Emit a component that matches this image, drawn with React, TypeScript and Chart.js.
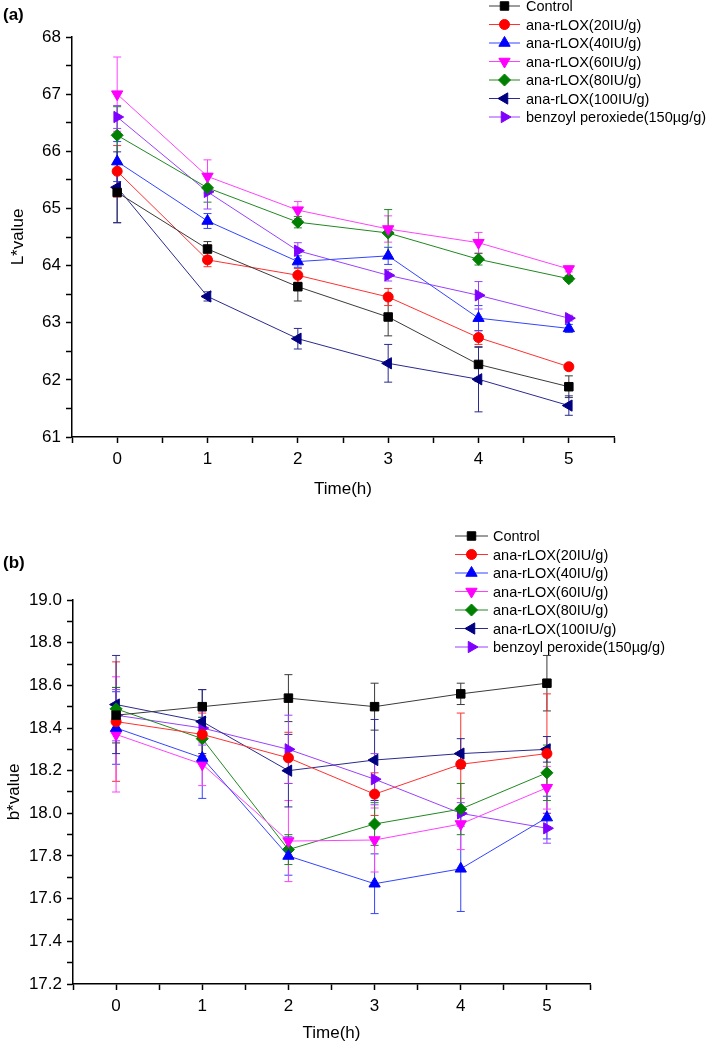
import React, { useEffect, useRef } from 'react';
import { Chart, registerables } from 'chart.js';
import { drawPoint } from 'chart.js/helpers';

Chart.register(...registerables);

// ---------- data ----------
const times = [0, 1, 2, 3, 4, 5];

const namesA = [
  'Control',
  'ana-rLOX(20IU/g)',
  'ana-rLOX(40IU/g)',
  'ana-rLOX(60IU/g)',
  'ana-rLOX(80IU/g)',
  'ana-rLOX(100IU/g)',
  'benzoyl peroxiede(150\u00B5g/g)',
];
const namesB = [
  'Control',
  'ana-rLOX(20IU/g)',
  'ana-rLOX(40IU/g)',
  'ana-rLOX(60IU/g)',
  'ana-rLOX(80IU/g)',
  'ana-rLOX(100IU/g)',
  'benzoyl peroxide(150\u00B5g/g)',
];

// (a) L* value
const lControl = [65.28, 64.29, 63.63, 63.1, 62.27, 61.88];
const lControlErr = [0.53, 0.13, 0.25, 0.33, 0.3, 0.19];
const l20 = [65.65, 64.1, 63.83, 63.45, 62.74, 62.23];
const l20Err = [0.45, 0.12, 0.12, 0.15, 0.12, 0.05];
const l40 = [65.82, 64.78, 64.07, 64.17, 63.08, 62.9];
const l40Err = [0.35, 0.13, 0.1, 0.15, 0.22, 0.07];
const l60 = [67.0, 65.56, 64.97, 64.64, 64.4, 63.94];
const l60Err = [0.65, 0.29, 0.15, 0.23, 0.18, 0.05];
const l80 = [66.28, 65.36, 64.76, 64.57, 64.11, 63.77];
const l80Err = [0.5, 0.25, 0.1, 0.41, 0.1, 0.05];
const l100 = [65.37, 63.46, 62.72, 62.29, 62.01, 61.55];
const l100Err = [0.62, 0.08, 0.18, 0.33, 0.57, 0.17];
const lBpo = [66.6, 65.29, 64.26, 63.83, 63.48, 63.08];
const lBpoErr = [0.2, 0.3, 0.14, 0.1, 0.24, 0.05];

// (b) b* value
const bControl = [18.46, 18.5, 18.54, 18.5, 18.56, 18.61];
const bControlErr = [0.13, 0.08, 0.11, 0.11, 0.05, 0.13];
const b20 = [18.43, 18.37, 18.26, 18.09, 18.23, 18.28];
const b20Err = [0.28, 0.1, 0.12, 0.1, 0.24, 0.28];
const b40 = [18.4, 18.26, 17.8, 17.67, 17.74, 17.98];
const b40Err = [0.17, 0.19, 0.09, 0.14, 0.2, 0.1];
const b60 = [18.37, 18.23, 17.87, 17.875, 17.95, 18.12];
const b60Err = [0.27, 0.1, 0.19, 0.15, 0.12, 0.1];
const b80 = [18.49, 18.35, 17.83, 17.95, 18.02, 18.19];
const b80Err = [0.1, 0.1, 0.07, 0.1, 0.12, 0.13];
const b100 = [18.51, 18.43, 18.2, 18.25, 18.28, 18.3];
const b100Err = [0.23, 0.15, 0.17, 0.19, 0.07, 0.06];
const bBpo = [18.46, 18.4, 18.3, 18.16, 18.0, 17.93];
const bBpoErr = [0.12, 0.08, 0.16, 0.12, 0.05, 0.07];

const xTickLabels = ['0', '1', '2', '3', '4', '5'];

// ---------- styles ----------
const STYLES = [
  { color: '#000000', line: '#3a3a3a', style: 'rect', rot: 0, r: 6 },
  { color: '#ff0000', line: '#ff3030', style: 'circle', rot: 0, r: 5 },
  { color: '#0000ff', line: '#3344ff', style: 'triangle', rot: 0, r: 6.5 },
  { color: '#ff00ff', line: '#ff40ff', style: 'triangle', rot: 180, r: 6.5 },
  { color: '#008000', line: '#208820', style: 'rectRot', rot: 0, r: 6 },
  { color: '#000080', line: '#2a2a90', style: 'triangle', rot: 270, r: 6.5 },
  { color: '#8000ff', line: '#9a40ff', style: 'triangle', rot: 90, r: 6.5 },
];

const FONT = "'Liberation Sans', Arial, sans-serif";

const errorBarPlugin = {
  id: 'errBars',
  beforeDatasetsDraw(chart: any) {
    const ctx = chart.ctx;
    const xs = chart.scales.x;
    const ys = chart.scales.y;
    chart.data.datasets.forEach((ds: any) => {
      const errs = ds.errors;
      if (!errs) return;
      ctx.save();
      ctx.strokeStyle = ds.borderColor;
      ctx.lineWidth = 1;
      ds.data.forEach((p: any, i: number) => {
        const x = xs.getPixelForValue(p.x);
        const yt = ys.getPixelForValue(p.y + errs[i]);
        const yb = ys.getPixelForValue(p.y - errs[i]);
        ctx.beginPath();
        ctx.moveTo(x, yt);
        ctx.lineTo(x, yb);
        ctx.moveTo(x - 4, yt);
        ctx.lineTo(x + 4, yt);
        ctx.moveTo(x - 4, yb);
        ctx.lineTo(x + 4, yb);
        ctx.stroke();
      });
      ctx.restore();
    });
  },
};

const lineLegendPlugin = {
  id: 'lineLegend',
  afterDraw(chart: any, _args: any, opts: any) {
    const ctx = chart.ctx;
    ctx.save();
    // panel label
    ctx.fillStyle = '#000';
    ctx.font = `bold 17px ${FONT}`;
    ctx.textAlign = 'left';
    ctx.textBaseline = 'middle';
    ctx.fillText(opts.panel, opts.panelX, opts.panelY);
    // legend rows
    ctx.font = `14.5px ${FONT}`;
    chart.data.datasets.forEach((ds: any, i: number) => {
      const y = opts.y0 + i * opts.step;
      ctx.strokeStyle = ds.borderColor;
      ctx.lineWidth = 1;
      ctx.beginPath();
      ctx.moveTo(opts.x0, y);
      ctx.lineTo(opts.x1, y);
      ctx.stroke();
      ctx.fillStyle = ds.pointBackgroundColor;
      ctx.strokeStyle = ds.pointBorderColor;
      drawPoint(ctx, { pointStyle: ds.pointStyle, rotation: ds.pointRotation, radius: ds.pointRadius, borderWidth: 1 } as any, (opts.x0 + opts.x1) / 2, y);
      ctx.fillStyle = '#000';
      ctx.fillText(ds.label, opts.textX, y + 1);
    });
    ctx.restore();
  },
};

type Spec = {
  names: string[];
  values: number[][];
  errors: number[][];
  yMin: number;
  yMax: number;
  yStep: number;
  yLabel: (v: number) => string;
  yTitle: string;
  yTitlePad: number;
  padding: { left: number; right: number; top: number; bottom: number };
  yWidth: number;
  xHeight: number;
  legend: any;
};

function makeConfig(s: Spec): any {
  const datasets = s.values.map((vals, i) => {
    const st = STYLES[i];
    return {
      label: s.names[i],
      data: times.map((t, j) => ({ x: t, y: vals[j] })),
      errors: s.errors[i],
      borderColor: st.line,
      borderWidth: 1,
      backgroundColor: st.color,
      pointBackgroundColor: st.color,
      pointBorderColor: st.color,
      pointBorderWidth: 1,
      pointStyle: st.style,
      pointRotation: st.rot,
      pointRadius: st.r,
      tension: 0,
      fill: false,
    };
  });
  return {
    type: 'line',
    data: { datasets },
    options: {
      animation: false,
      responsive: false,
      events: [],
      layout: { padding: s.padding },
      plugins: {
        legend: { display: false },
        tooltip: { enabled: false },
        lineLegend: s.legend,
      },
      scales: {
        x: {
          type: 'linear',
          min: -0.5,
          max: 5.5,
          afterFit: (sc: any) => {
            sc.height = s.xHeight;
          },
          ticks: {
            stepSize: 0.5,
            autoSkip: false,
            maxRotation: 0,
            padding: 6,
            color: '#000',
            font: { family: FONT, size: 17 },
            callback: (v: number) => {
              const idx = times.indexOf(v);
              return idx >= 0 ? xTickLabels[idx] : '';
            },
          },
          grid: { display: true, drawOnChartArea: false, drawTicks: true, tickLength: 6, tickColor: '#000', tickWidth: 1.5 },
          border: { display: true, color: '#000', width: 1.5 },
          title: { display: true, text: 'Time(h)', color: '#000', font: { family: FONT, size: 17 }, padding: { top: 0, bottom: 0 } },
        },
        y: {
          type: 'linear',
          min: s.yMin,
          max: s.yMax,
          afterFit: (sc: any) => {
            sc.width = s.yWidth;
          },
          ticks: {
            stepSize: s.yStep,
            autoSkip: false,
            padding: 5,
            color: '#000',
            font: { family: FONT, size: 17 },
            callback: (v: number) => s.yLabel(v),
          },
          grid: { display: true, drawOnChartArea: false, drawTicks: true, tickLength: 6, tickColor: '#000', tickWidth: 1.5 },
          border: { display: true, color: '#000', width: 1.5 },
          title: { display: true, text: s.yTitle, color: '#000', font: { family: FONT, size: 17 }, padding: { top: s.yTitlePad, bottom: 0 } },
        },
      },
    },
    plugins: [errorBarPlugin, lineLegendPlugin],
  };
}

const specA: Spec = {
  names: namesA,
  values: [lControl, l20, l40, l60, l80, l100, lBpo],
  errors: [lControlErr, l20Err, l40Err, l60Err, l80Err, l100Err, lBpoErr],
  yMin: 61,
  yMax: 68,
  yStep: 0.5,
  yLabel: (v: number) => (Number.isInteger(v) ? String(v) : ''),
  yTitle: 'L*value',
  yTitlePad: 8,
  padding: { left: 0, right: 95, top: 37, bottom: 20 },
  yWidth: 72,
  xHeight: 63,
  legend: { panel: '(a)', panelX: 3, panelY: 15, x0: 489, x1: 520, textX: 526, y0: 6, step: 18.5 },
};

const specB: Spec = {
  names: namesB,
  values: [bControl, b20, b40, b60, b80, b100, bBpo],
  errors: [bControlErr, b20Err, b40Err, b60Err, b80Err, b100Err, bBpoErr],
  yMin: 17.2,
  yMax: 19.0,
  yStep: 0.1,
  yLabel: (v: number) => {
    const k = Math.round(v * 10);
    return k % 2 === 0 ? (k / 10).toFixed(1) : '';
  },
  yTitle: 'b*value',
  yTitlePad: 4,
  padding: { left: 0, right: 119, top: 80, bottom: 0 },
  yWidth: 73,
  xHeight: 60,
  legend: { panel: '(b)', panelX: 3, panelY: 43, x0: 455, x1: 488, textX: 493, y0: 16, step: 18.5 },
};

function Panel({ spec, top, height }: { spec: Spec; top: number; height: number }) {
  const ref = useRef<HTMLCanvasElement | null>(null);
  useEffect(() => {
    if (!ref.current) return;
    const chart = new Chart(ref.current, makeConfig(spec));
    return () => chart.destroy();
  }, [spec]);
  return (
    <canvas
      ref={ref}
      width={709}
      height={height}
      style={{ position: 'absolute', left: 0, top, width: 709, height, display: 'block' }}
    />
  );
}

export default function App() {
  return (
    <div style={{ position: 'absolute', left: 0, top: 0, width: 709, height: 1044, background: '#fff', overflow: 'hidden' }}>
      <Panel spec={specA} top={0} height={520} />
      <Panel spec={specB} top={520} height={524} />
    </div>
  );
}
